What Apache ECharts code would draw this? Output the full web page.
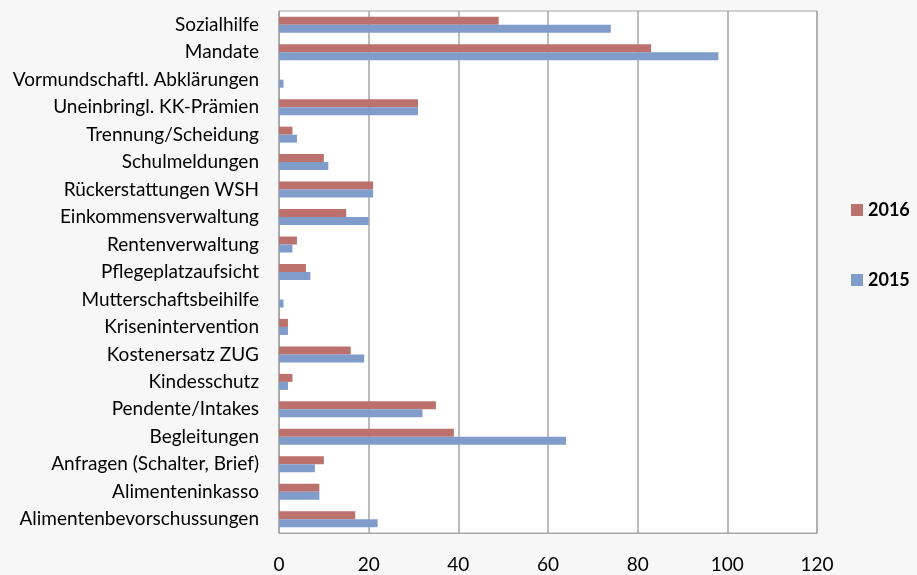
<!DOCTYPE html>
<html><head><meta charset="utf-8">
<script src="https://cdn.jsdelivr.net/npm/echarts@6/dist/echarts.min.js"></script>
<style>html,body{margin:0;padding:0;background:#f7f7f7}#c{width:917px;height:575px}</style>
</head><body><div id="c"></div>
<script>
const categories = ["Sozialhilfe","Mandate","Vormundschaftl. Abklärungen","Uneinbringl. KK-Prämien","Trennung/Scheidung","Schulmeldungen","Rückerstattungen WSH","Einkommensverwaltung","Rentenverwaltung","Pflegeplatzaufsicht","Mutterschaftsbeihilfe","Krisenintervention","Kostenersatz ZUG","Kindesschutz","Pendente/Intakes","Begleitungen","Anfragen (Schalter, Brief)","Alimenteninkasso","Alimentenbevorschussungen"];
const values2016 = [49,83,0,31,3,10,21,15,4,6,0,2,16,3,35,39,10,9,17];
const values2015 = [74,98,1,31,4,11,21,20,3,7,1,2,19,2,32,64,8,9,22];
const xTicks = [0,20,40,60,80,100,120];
const font = "Lato";
const chart = echarts.init(document.getElementById('c'));
chart.setOption({
  backgroundColor:'#f7f7f7',
  animation:false,
  textStyle:{fontFamily:font},
  grid:{left:279,right:100,top:11,bottom:42,show:true,backgroundColor:'#fff',borderColor:'#a6a6a6',borderWidth:1},
  legend:{orient:'vertical',left:846,top:196,itemGap:52,itemWidth:12,itemHeight:12,icon:'rect',
    textStyle:{fontFamily:font,fontSize:18,fontWeight:'bold',color:'#000'},
    data:['2016','2015']},
  xAxis:{type:'value',min:xTicks[0],max:xTicks[xTicks.length-1],interval:20,
    axisLine:{show:true,lineStyle:{color:'#a6a6a6'}},axisTick:{show:false},
    axisLabel:{margin:22,fontSize:19,color:'#000',fontFamily:font},
    splitLine:{show:true,lineStyle:{color:'#a6a6a6',width:1.5}}},
  yAxis:{type:'category',data:categories,inverse:true,
    axisLine:{show:true,lineStyle:{color:'#a6a6a6'}},axisTick:{show:false},
    axisLabel:{margin:20,fontSize:19,color:'#000',fontFamily:font}},
  series:[
    {name:'2016',type:'bar',data:values2016,barWidth:8,barGap:'0%',itemStyle:{color:'#bd716c'}},
    {name:'2015',type:'bar',data:values2015,barWidth:8,barGap:'0%',itemStyle:{color:'#7f9ccb'}}
  ]
});
</script></body></html>
